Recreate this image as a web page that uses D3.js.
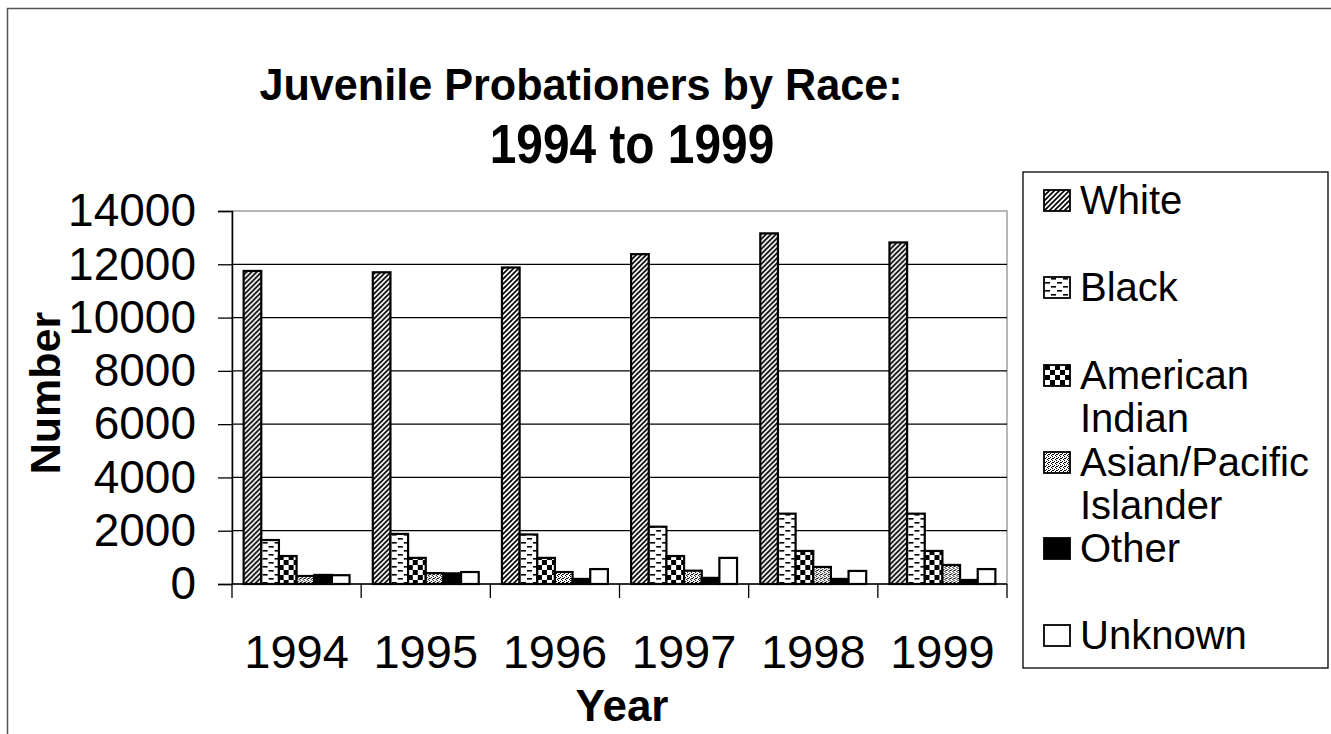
<!DOCTYPE html>
<html>
<head>
<meta charset="utf-8">
<script src="https://cdn.jsdelivr.net/npm/d3@7"></script>
<style>
  body { margin: 0; background: #fff; }
  svg { display: block; font-family: "Liberation Sans", Arial, sans-serif; }
</style>
</head>
<body>
<svg id="chart" width="1331" height="734"></svg>
<script>
const years = ["1994", "1995", "1996", "1997", "1998", "1999"];
const races = ["White", "Black", "American Indian", "Asian/Pacific Islander", "Other", "Unknown"];

const white    = [11750, 11700, 11880, 12380, 13160, 12820];
const black    = [1650, 1880, 1860, 2150, 2640, 2640];
const amIndian = [1050, 980, 980, 1050, 1240, 1240];
const asianPI  = [300, 410, 450, 500, 640, 715];
const other    = [340, 400, 190, 230, 190, 150];
const unknown  = [330, 450, 560, 980, 490, 560];

const yTicks = [0, 2000, 4000, 6000, 8000, 10000, 12000, 14000];

const seriesValues = [white, black, amIndian, asianPI, other, unknown];
const legendLines = [["White"], ["Black"], ["American", "Indian"], ["Asian/Pacific", "Islander"], ["Other"], ["Unknown"]];

const svg = d3.select("#chart");
const defs = svg.append("defs");

// fill patterns, one per race
const hatch = defs.append("pattern").attr("id", "p0").attr("patternUnits", "userSpaceOnUse")
  .attr("width", 5).attr("height", 5);
hatch.append("rect").attr("width", 5).attr("height", 5).attr("fill", "#fff");
hatch.append("path").attr("d", "M0,5L5,0M-1,1L1,-1M4,6L6,4").attr("stroke", "#000").attr("stroke-width", 1.7);

const dash = defs.append("pattern").attr("id", "p1").attr("patternUnits", "userSpaceOnUse")
  .attr("width", 12).attr("height", 8);
dash.append("rect").attr("width", 12).attr("height", 8).attr("fill", "#fff");
dash.append("rect").attr("x", 1).attr("y", 2).attr("width", 5).attr("height", 1.6).attr("fill", "#000");
dash.append("rect").attr("x", 7).attr("y", 6).attr("width", 5).attr("height", 1.6).attr("fill", "#000");

const checker = defs.append("pattern").attr("id", "p2").attr("patternUnits", "userSpaceOnUse")
  .attr("width", 10).attr("height", 10);
checker.append("rect").attr("width", 10).attr("height", 10).attr("fill", "#fff");
checker.append("rect").attr("width", 5).attr("height", 5).attr("fill", "#000");
checker.append("rect").attr("x", 5).attr("y", 5).attr("width", 5).attr("height", 5).attr("fill", "#000");

const stipple = defs.append("pattern").attr("id", "p3").attr("patternUnits", "userSpaceOnUse")
  .attr("width", 4).attr("height", 4);
stipple.append("rect").attr("width", 4).attr("height", 4).attr("fill", "#fff");
[[0,0],[2,1],[1,2],[3,3],[0,2]].forEach(p => {
  stipple.append("rect").attr("x", p[0]).attr("y", p[1]).attr("width", 1).attr("height", 1).attr("fill", "#000");
});

const fills = ["url(#p0)", "url(#p1)", "url(#p2)", "url(#p3)", "#000", "#fff"];

// outer chart border
svg.append("rect").attr("x", 7.5).attr("y", 8.5).attr("width", 1340).attr("height", 740)
  .attr("fill", "none").attr("stroke", "#555").attr("stroke-width", 1.5);

// title (narrow, tall letters as in the scan)
svg.append("text").attr("text-anchor", "middle").attr("font-weight", "bold")
  .attr("font-size", 45).attr("transform", "translate(581,100) scale(0.96,1)")
  .text("Juvenile Probationers by Race:");
svg.append("text").attr("text-anchor", "middle").attr("font-weight", "bold")
  .attr("font-size", 55).attr("transform", "translate(632,163) scale(0.87,1)")
  .text("1994 to 1999");

const plot = { left: 232, top: 211, right: 1007, bottom: 584 };

const x0 = d3.scaleBand().domain(years).range([plot.left, plot.right])
  .paddingInner(0.18).paddingOuter(0.09);
const x1 = d3.scaleBand().domain(races).range([0, x0.bandwidth()]);
const y = d3.scaleLinear().domain([0, 14000]).range([plot.bottom, plot.top]);

// plot area border (light) and gridlines
svg.append("rect").attr("x", plot.left).attr("y", plot.top)
  .attr("width", plot.right - plot.left).attr("height", plot.bottom - plot.top)
  .attr("fill", "none").attr("stroke", "#888").attr("stroke-width", 1.2);

svg.append("g").selectAll("line").data(yTicks.filter(d => d > 0 && d < 14000)).join("line")
  .attr("x1", plot.left).attr("x2", plot.right)
  .attr("y1", d => y(d)).attr("y2", d => y(d))
  .attr("stroke", "#000").attr("stroke-width", 1.2);

// bars
const groups = svg.append("g").selectAll("g").data(years).join("g")
  .attr("transform", d => "translate(" + x0(d) + ",0)");

groups.selectAll("rect")
  .data((yr, i) => races.map((r, k) => ({ race: r, k: k, value: seriesValues[k][i] })))
  .join("rect")
  .attr("x", d => x1(d.race))
  .attr("y", d => y(d.value))
  .attr("width", x1.bandwidth())
  .attr("height", d => y(0) - y(d.value))
  .attr("fill", d => fills[d.k])
  .attr("stroke", "#000")
  .attr("stroke-width", 2.2);

// y axis
const yAxis = svg.append("g").attr("transform", "translate(" + plot.left + ",0)")
  .call(d3.axisLeft(y).tickValues(yTicks).tickSize(14).tickPadding(22).tickFormat(d3.format("d")));
yAxis.select(".domain").attr("stroke", "#000").attr("stroke-width", 1.5);
yAxis.selectAll(".tick line").attr("stroke", "#000").attr("stroke-width", 1.3);
yAxis.selectAll("text").attr("font-size", 46).attr("fill", "#000")
  .attr("font-family", "Liberation Sans, Arial, sans-serif");

// x axis: ticks at category boundaries
const xAxisG = svg.append("g");
xAxisG.append("line").attr("x1", plot.left).attr("x2", plot.right)
  .attr("y1", plot.bottom).attr("y2", plot.bottom).attr("stroke", "#000").attr("stroke-width", 1.5);
const step = x0.step();
const bounds = years.map(yr => x0(yr) - x0.paddingOuter() * step).concat([plot.right]);
xAxisG.selectAll(".tk").data(bounds).join("line").attr("class", "tk")
  .attr("x1", d => d).attr("x2", d => d)
  .attr("y1", plot.bottom).attr("y2", plot.bottom + 14)
  .attr("stroke", "#000").attr("stroke-width", 1.3);
xAxisG.selectAll(".lbl").data(years).join("text").attr("class", "lbl")
  .attr("x", d => x0(d) + x0.bandwidth() / 2)
  .attr("y", 668)
  .attr("text-anchor", "middle").attr("font-size", 47).attr("fill", "#000")
  .text(d => d);

// axis titles
svg.append("text").attr("x", 622).attr("y", 721).attr("text-anchor", "middle")
  .attr("font-weight", "bold").attr("font-size", 44).text("Year");
svg.append("text").attr("transform", "translate(60,393) rotate(-90)").attr("text-anchor", "middle")
  .attr("font-weight", "bold").attr("font-size", 43).text("Number");

// legend
const legend = svg.append("g");
legend.append("rect").attr("x", 1023).attr("y", 172).attr("width", 305).attr("height", 496)
  .attr("fill", "#fff").attr("stroke", "#000").attr("stroke-width", 1.3);
const rowY = [200, 287, 375, 462, 548, 635];
const items = legend.selectAll(".item").data(races).join("g").attr("class", "item");
items.append("rect")
  .attr("x", 1044).attr("y", (d, i) => rowY[i] - 10)
  .attr("width", 26).attr("height", 21)
  .attr("fill", (d, i) => fills[i]).attr("stroke", "#000").attr("stroke-width", 1.8);
items.each(function (d, i) {
  const t = d3.select(this).append("text").attr("font-size", 40).attr("fill", "#000");
  legendLines[i].forEach((ln, j) => {
    t.append("tspan").attr("x", 1080).attr("y", rowY[i] + 14 + j * 43).text(ln);
  });
});
</script>
</body>
</html>
